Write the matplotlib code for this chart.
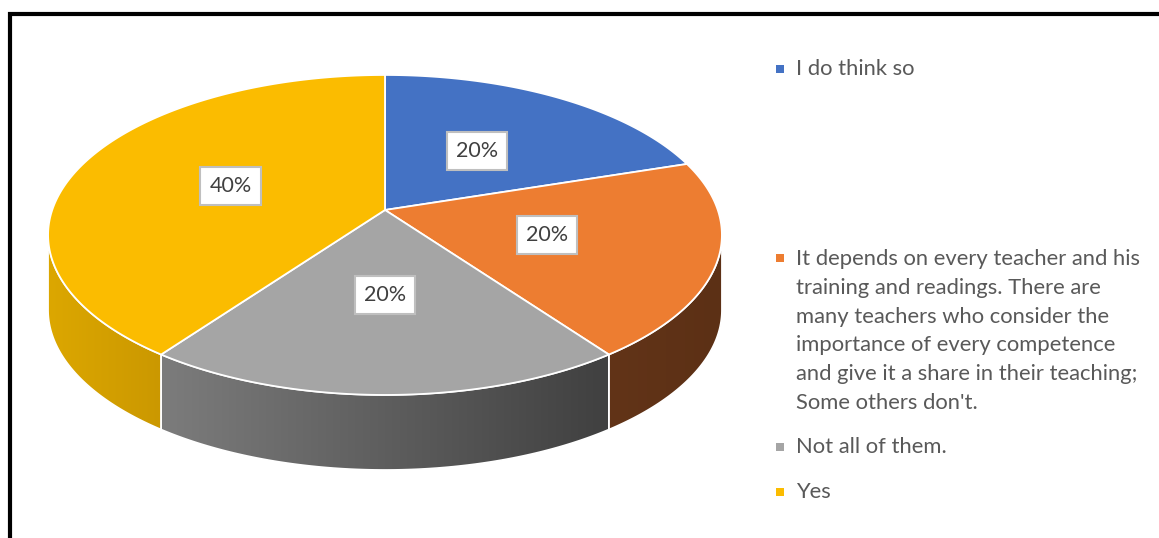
"""
3D pie chart of answers with an Office-style legend on the right.
"""
import matplotlib.pyplot as plt
import numpy as np
from matplotlib.patches import Polygon

# answers and their shares (%)
answers = [
    "I do think so",
    "It depends on every teacher and his\ntraining and readings. There are\nmany teachers who consider the\nimportance of every competence\nand give it a share in their teaching;\nSome others don't.",
    "Not all of them.",
    "Yes",
]
shares = [20, 20, 20, 40]

top_colors = ["#4472C4", "#ED7D31", "#A5A5A5", "#FBBC00"]
# side wall shading, left -> right
side_colors = [
    ("#2F528F", "#2F528F"),
    ("#623418", "#5C3015"),
    ("#7C7C7C", "#404040"),
    ("#DCA700", "#CB9800"),
]

# pie geometry in pixels (perspective tilt k)
cx, cy = 385, 210
A, B, k = 332.8, 156.1, 0.156
depth = 75


def project(theta, r=1.0, drop=0.0):
    u = r * np.sin(theta)
    v = r * np.cos(theta)
    w = 1 + k * v
    return cx + A * u / w, cy - B * v / w + drop


def hex_rgb(c):
    c = c.lstrip("#")
    return np.array([int(c[i:i + 2], 16) for i in (0, 2, 4)]) / 255.0


fig = plt.figure(figsize=(11.59, 5.38), dpi=100)
ax = fig.add_axes([0, 0, 1, 1])
ax.set_xlim(0, 1159)
ax.set_ylim(538, 0)
ax.axis("off")

total = sum(shares)
bounds = np.concatenate([[0], np.cumsum(shares)]) / total * 2 * np.pi

# front half of the rim is where the side wall shows
front_lo = np.arccos(-k)
front_hi = 2 * np.pi - front_lo

for i in range(len(shares)):
    a0, a1 = max(bounds[i], front_lo), min(bounds[i + 1], front_hi)
    if a1 <= a0:
        continue
    t = np.linspace(a0, a1, 120)
    xt, yt = project(t)
    xb, yb = project(t[::-1], drop=depth)
    pts = np.column_stack([np.concatenate([xt, xb]), np.concatenate([yt, yb])])
    poly = Polygon(pts, closed=True, facecolor="none", edgecolor="white", lw=1.2, zorder=2)
    ax.add_patch(poly)
    x0, x1 = pts[:, 0].min(), pts[:, 0].max()
    y0, y1 = pts[:, 1].min(), pts[:, 1].max()
    c0, c1 = hex_rgb(side_colors[i][0]), hex_rgb(side_colors[i][1])
    ramp = np.linspace(0, 1, 200)[:, None]
    grad = (c0[None, :] * (1 - ramp) + c1[None, :] * ramp)[None, :, :]
    im = ax.imshow(grad, extent=(x0, x1, y1, y0), aspect="auto", zorder=1,
                   interpolation="bilinear")
    im.set_clip_path(poly)

for i in range(len(shares)):
    t = np.linspace(bounds[i], bounds[i + 1], 150)
    xt, yt = project(t)
    pts = np.column_stack([np.concatenate([[cx], xt]), np.concatenate([[cy], yt])])
    ax.add_patch(Polygon(pts, closed=True, facecolor=top_colors[i],
                         edgecolor="white", lw=1.3, zorder=3))
    mid = (bounds[i] + bounds[i + 1]) / 2
    lx, ly = project(mid, r=0.5)
    ax.text(lx, ly, f"{round(shares[i] / total * 100)}%", ha="center", va="center",
            fontsize=15.5, family="Lato", color="#404040", zorder=5,
            bbox=dict(boxstyle="square,pad=0.42", fc="white", ec="#BFBFBF", lw=1.5))

# legend
legend_y = [69, 331, 447, 492]
for i, label in enumerate(answers):
    nlines = label.count("\n") + 1
    my = legend_y[i] - (nlines - 1) * 29.2 / 2
    ax.scatter([780], [my], marker="s", s=34, color=top_colors[i], lw=0, zorder=5)
    ax.text(796, legend_y[i], label, ha="left", va="center", fontsize=15.8,
            family="Lato", color="#595959", linespacing=1.54, zorder=5)

# frame
ax.plot([9.5, 9.5, 1160], [540, 14, 14], color="black", lw=3, solid_joinstyle="miter",
        zorder=6)

fig.savefig("out.png", dpi=100)
